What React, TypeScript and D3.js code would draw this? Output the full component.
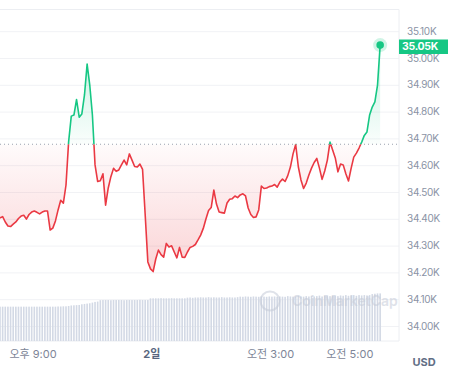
import React from "react";
import * as d3 from "d3";

// ---- data ----
const startMinute = 1210; // 20:10 (minutes from midnight of day 1)
const stepMinutes = 4;

const prices: number[] = [
  34.405, 34.41, 34.39, 34.375, 34.373, 34.382, 34.39, 34.403, 34.412, 34.415,
  34.401, 34.418, 34.427, 34.431, 34.426, 34.42, 34.427, 34.431, 34.431, 34.36,
  34.367, 34.394, 34.435, 34.471, 34.46, 34.528, 34.69, 34.785, 34.789, 34.847,
  34.781, 34.793, 34.864, 34.979, 34.901, 34.789, 34.603, 34.541, 34.544, 34.57,
  34.453, 34.517, 34.559, 34.59, 34.579, 34.584, 34.603, 34.621, 34.603, 34.644,
  34.621, 34.597, 34.595, 34.606, 34.586, 34.416, 34.241, 34.215, 34.205, 34.252,
  34.285, 34.268, 34.259, 34.31, 34.297, 34.301, 34.278, 34.256, 34.295, 34.259,
  34.258, 34.278, 34.295, 34.299, 34.306, 34.323, 34.341, 34.366, 34.401, 34.433,
  34.444, 34.509, 34.457, 34.427, 34.425, 34.423, 34.461, 34.475, 34.477, 34.487,
  34.481, 34.491, 34.495, 34.487, 34.442, 34.418, 34.407, 34.409, 34.435, 34.524,
  34.515, 34.517, 34.522, 34.524, 34.53, 34.52, 34.539, 34.55, 34.541, 34.563,
  34.595, 34.644, 34.679, 34.596, 34.547, 34.515, 34.535, 34.565, 34.591, 34.612,
  34.627, 34.591, 34.549, 34.58, 34.621, 34.688, 34.659, 34.629, 34.577, 34.606,
  34.603, 34.57, 34.543, 34.59, 34.632, 34.647, 34.666, 34.688, 34.713, 34.726,
  34.789, 34.819, 34.838, 34.901, 35.05,
];

const volumes: number[] = [
  10.1, 10.1, 10.1, 10.1, 10.1, 10.1, 10.1, 10.1, 10.1, 10.1,
  10.1, 10.1, 10.1, 10.1, 10.1, 10.1, 10.1, 10.1, 10.1, 10.1,
  10.1, 10.1, 10.15, 10.15, 10.2, 10.2, 10.3, 10.45, 10.5, 10.55,
  10.6, 10.8, 10.9, 11.0, 11.1, 11.3, 11.5, 11.6, 12.0, 12.05,
  12.05, 12.05, 12.0, 12.05, 12.05, 12.05, 12.05, 12.0, 12.05, 12.05,
  12.05, 12.05, 12.05, 12.1, 12.05, 12.05, 12.05, 12.55, 12.55, 12.55,
  12.55, 12.6, 12.55, 12.55, 12.55, 12.6, 12.55, 12.55, 12.55, 12.55,
  12.55, 12.75, 12.8, 12.7, 12.8, 12.8, 12.85, 12.8, 12.8, 12.9,
  12.8, 12.85, 12.8, 12.8, 12.9, 12.8, 12.8, 12.85, 12.8, 12.8,
  12.9, 13.05, 13.0, 13.1, 13.05, 13.0, 13.1, 13.05, 13.0, 13.1,
  13.05, 13.0, 13.1, 13.05, 13.1, 13.0, 13.1, 13.05, 13.0, 13.2,
  13.1, 13.05, 13.1, 13.3, 13.1, 13.05, 13.2, 13.1, 13.3, 13.1,
  13.2, 13.35, 13.1, 13.3, 13.4, 13.2, 13.3, 13.4, 13.2, 13.4,
  13.3, 13.5, 13.3, 13.4, 13.5, 13.3, 13.5, 13.4, 13.5, 13.4,
  13.5, 13.8, 13.9, 14.0, 14.0,
];

const openPrice = 34.68;
const lastPrice = 35.05;
const yTicks: number[] = [34.0, 34.1, 34.2, 34.3, 34.4, 34.5, 34.6, 34.7, 34.8, 34.9, 35.0, 35.1];
const xTickMinutes: number[] = [1260, 1440, 1620, 1740];
const xTickLabels: string[] = ["오후 9:00", "2일", "오전 3:00", "오전 5:00"];
const xTickBold: boolean[] = [false, true, false, false];

const GREEN = "#16c784";
const RED = "#ea3943";
const FONT = "Inter, 'Noto Sans CJK KR', sans-serif";

export default function App() {
  const plotLeft = 0;
  const plotRight = 399;
  const plotTop = 9.5;
  const plotBottom = 341;

  const times = prices.map((_, i) => startMinute + i * stepMinutes);

  const x = d3.scaleLinear().domain([1260, 1740]).range([33, 349.8]);
  const y = d3.scaleLinear().domain([34.0, 35.1]).range([326.5, 31.7]);
  const yVol = d3.scaleLinear().domain([0, 20]).range([plotBottom, plotBottom - 68]);

  const pts = prices.map((p, i) => ({ t: times[i], p }));
  const lineGen = d3
    .line<{ t: number; p: number }>()
    .x((d) => x(d.t))
    .y((d) => y(d.p));
  const areaGen = d3
    .area<{ t: number; p: number }>()
    .x((d) => x(d.t))
    .y0(() => y(openPrice))
    .y1((d) => y(d.p));

  const baseY = y(openPrice);
  const linePath = lineGen(pts) || "";
  const areaPath = areaGen(pts) || "";
  const lastX = x(times[times.length - 1]);
  const lastY = y(lastPrice);
  const barW = 1.6;

  return (
    <svg
      width={456}
      height={377}
      style={{ position: "absolute", left: 0, top: 0, background: "#fff" }}
      fontFamily={FONT}
    >
      <defs>
        <clipPath id="above">
          <rect x={plotLeft} y={0} width={plotRight - plotLeft} height={baseY} />
        </clipPath>
        <clipPath id="below">
          <rect x={plotLeft} y={baseY} width={plotRight - plotLeft} height={plotBottom - baseY} />
        </clipPath>
        <linearGradient id="gGreen" gradientUnits="userSpaceOnUse" x1={0} y1={y(35.0)} x2={0} y2={baseY}>
          <stop offset="0" stopColor={GREEN} stopOpacity={0.22} />
          <stop offset="1" stopColor={GREEN} stopOpacity={0.02} />
        </linearGradient>
        <linearGradient id="gRed" gradientUnits="userSpaceOnUse" x1={0} y1={baseY} x2={0} y2={y(34.2)}>
          <stop offset="0" stopColor={RED} stopOpacity={0.02} />
          <stop offset="1" stopColor={RED} stopOpacity={0.22} />
        </linearGradient>
      </defs>

      {/* grid */}
      {yTicks.map((t) => (
        <line key={t} x1={plotLeft} x2={plotRight} y1={y(t)} y2={y(t)} stroke="#f1f2f5" strokeWidth={1} />
      ))}
      <line x1={plotLeft} x2={plotRight} y1={plotTop} y2={plotTop} stroke="#eceef2" />
      <line x1={plotLeft} x2={plotRight} y1={plotBottom} y2={plotBottom} stroke="#eceef2" />
      <line x1={plotRight} x2={plotRight} y1={plotTop} y2={plotBottom} stroke="#eceef2" />

      {/* volume bars */}
      {volumes.map((v, i) => (
        <rect
          key={i}
          x={x(times[i]) - barW / 2}
          y={yVol(v)}
          width={barW}
          height={plotBottom - yVol(v)}
          fill="#d3d9e5"
        />
      ))}

      {/* watermark */}
      <g opacity={0.55}>
        <circle cx={270} cy={301} r={9.5} fill="none" stroke="#c5cbd8" strokeWidth={2} />
        <text x={292} y={306} fontSize={14} fontWeight={600} fill="#c5cbd8">
          CoinMarketCap
        </text>
      </g>

      {/* areas */}
      <path d={areaPath} fill="url(#gRed)" clipPath="url(#below)" />
      <path d={areaPath} fill="url(#gGreen)" clipPath="url(#above)" />

      {/* baseline */}
      <line
        x1={plotLeft}
        x2={plotRight}
        y1={baseY}
        y2={baseY}
        stroke="#9aa1ae"
        strokeWidth={1}
        strokeDasharray="1,3"
      />

      {/* price lines */}
      <path d={linePath} fill="none" stroke={RED} strokeWidth={1.6} strokeLinejoin="round" clipPath="url(#below)" />
      <path d={linePath} fill="none" stroke={GREEN} strokeWidth={1.6} strokeLinejoin="round" clipPath="url(#above)" />

      {/* last point */}
      <circle cx={lastX} cy={lastY} r={7} fill={GREEN} opacity={0.2} />
      <circle cx={lastX} cy={lastY} r={3.8} fill={GREEN} />

      {/* y axis labels */}
      {yTicks.map((t) => (
        <text
          key={t}
          x={407}
          y={y(t) - 1}
          fontSize={10}
          fill="#8a93a5"
          dominantBaseline="central"
          letterSpacing={-0.3}
        >
          {t.toFixed(2) + "K"}
        </text>
      ))}

      {/* last price badge */}
      <rect x={399} y={39.5} width={49} height={14.5} fill={GREEN} />
      <text
        x={402}
        y={46.8}
        fontSize={10.5}
        fontWeight={700}
        fill="#fff"
        dominantBaseline="central"
        letterSpacing={-0.3}
      >
        {lastPrice.toFixed(2) + "K"}
      </text>

      {/* x axis labels */}
      {xTickMinutes.map((m, i) => (
        <text
          key={m}
          x={x(m)}
          y={358}
          fontSize={11}
          textAnchor="middle"
          fontWeight={xTickBold[i] ? 700 : 400}
          fill={xTickBold[i] ? "#58667e" : "#7d8597"}
        >
          {xTickLabels[i]}
        </text>
      ))}

      <text x={424} y={366} fontSize={11} fontWeight={700} textAnchor="middle" fill="#616e85">
        USD
      </text>
    </svg>
  );
}
